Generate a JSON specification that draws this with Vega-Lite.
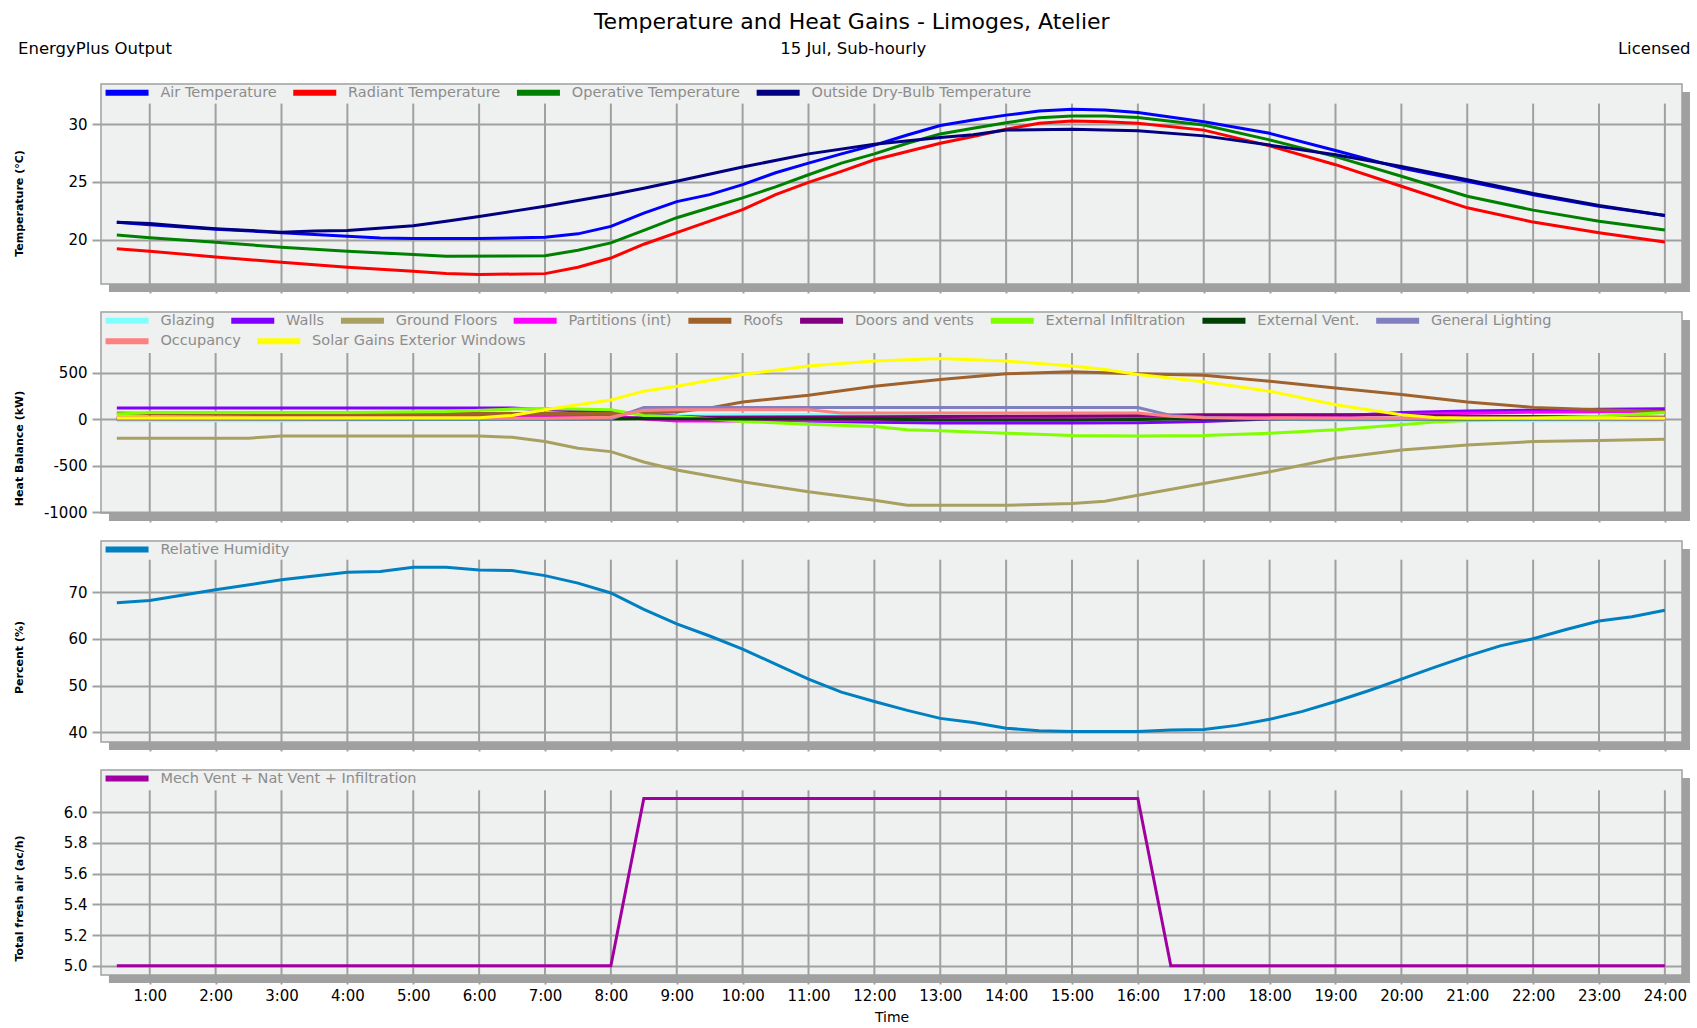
{
"$schema": "https://vega.github.io/schema/vega-lite/v6.json",
"padding": {"left": 12, "top": 10, "right": 5, "bottom": 5},
"background": "white",
"title": {"text": "Temperature and Heat Gains - Limoges, Atelier", "font": "DejaVu Sans", "fontSize": 22, "fontWeight": "normal", "color": "#000", "anchor": "middle", "frame": "bounds", "offset": 7},
"config": {
  "font": "DejaVu Sans",
  "view": {"fill": "#eff0f0", "stroke": "#a0a0a0", "strokeWidth": 1.5},
  "axis": {"labelFont": "DejaVu Sans", "labelFontSize": 15, "labelColor": "#000", "tickColor": "#a0a0a0", "tickWidth": 2, "tickSize": 9, "labelPadding": 5, "gridColor": "#a0a0a0", "gridWidth": 2, "gridOpacity": 1, "domain": false, "titleFont": "DejaVu Sans", "titleFontSize": 11, "titleFontWeight": "bold", "titleColor": "#000"},
  "legend": {"orient": "top-left", "offset": -2, "direction": "horizontal", "symbolType": "M-0.55,0H5.45", "symbolSize": 205.4, "symbolStrokeWidth": 6, "labelColor": "#8c8c8c", "labelFont": "DejaVu Sans", "labelFontSize": 14.5, "labelLimit": 400, "columnPadding": 3.7, "rowPadding": 5, "labelOffset": 40.4, "padding": 0}
},
"datasets": {
  "hours": [{"h":1},{"h":2},{"h":3},{"h":4},{"h":5},{"h":6},{"h":7},{"h":8},{"h":9},{"h":10},{"h":11},{"h":12},{"h":13},{"h":14},{"h":15},{"h":16},{"h":17},{"h":18},{"h":19},{"h":20},{"h":21},{"h":22},{"h":23},{"h":24}],
  "temp": [
{"h":0.5,"s":"Air Temperature","v":21.5},{"h":1,"s":"Air Temperature","v":21.3},{"h":2,"s":"Air Temperature","v":20.9},{"h":3,"s":"Air Temperature","v":20.6},{"h":4,"s":"Air Temperature","v":20.3},{"h":4.5,"s":"Air Temperature","v":20.15},{"h":5,"s":"Air Temperature","v":20.1},{"h":6,"s":"Air Temperature","v":20.1},{"h":7,"s":"Air Temperature","v":20.2},{"h":7.5,"s":"Air Temperature","v":20.5},{"h":8,"s":"Air Temperature","v":21.15},{"h":8.5,"s":"Air Temperature","v":22.3},{"h":9,"s":"Air Temperature","v":23.3},{"h":9.5,"s":"Air Temperature","v":23.9},{"h":10,"s":"Air Temperature","v":24.77},{"h":10.5,"s":"Air Temperature","v":25.8},{"h":11,"s":"Air Temperature","v":26.64},{"h":11.5,"s":"Air Temperature","v":27.44},{"h":12,"s":"Air Temperature","v":28.2},{"h":12.5,"s":"Air Temperature","v":29.08},{"h":13,"s":"Air Temperature","v":29.9},{"h":13.5,"s":"Air Temperature","v":30.37},{"h":14,"s":"Air Temperature","v":30.8},{"h":14.5,"s":"Air Temperature","v":31.15},{"h":15,"s":"Air Temperature","v":31.3},{"h":15.5,"s":"Air Temperature","v":31.24},{"h":16,"s":"Air Temperature","v":31.03},{"h":17,"s":"Air Temperature","v":30.23},{"h":18,"s":"Air Temperature","v":29.22},{"h":19,"s":"Air Temperature","v":27.73},{"h":20,"s":"Air Temperature","v":26.2},{"h":21,"s":"Air Temperature","v":25.06},{"h":22,"s":"Air Temperature","v":23.9},{"h":23,"s":"Air Temperature","v":22.9},{"h":24,"s":"Air Temperature","v":22.1},
{"h":0.5,"s":"Radiant Temperature","v":19.2},{"h":1,"s":"Radiant Temperature","v":19.0},{"h":2,"s":"Radiant Temperature","v":18.5},{"h":3,"s":"Radiant Temperature","v":18.04},{"h":4,"s":"Radiant Temperature","v":17.6},{"h":5,"s":"Radiant Temperature","v":17.26},{"h":5.5,"s":"Radiant Temperature","v":17.06},{"h":6,"s":"Radiant Temperature","v":16.97},{"h":7,"s":"Radiant Temperature","v":17.05},{"h":7.5,"s":"Radiant Temperature","v":17.6},{"h":8,"s":"Radiant Temperature","v":18.4},{"h":8.5,"s":"Radiant Temperature","v":19.6},{"h":9,"s":"Radiant Temperature","v":20.6},{"h":9.5,"s":"Radiant Temperature","v":21.6},{"h":10,"s":"Radiant Temperature","v":22.6},{"h":10.5,"s":"Radiant Temperature","v":23.9},{"h":11,"s":"Radiant Temperature","v":24.97},{"h":11.5,"s":"Radiant Temperature","v":25.92},{"h":12,"s":"Radiant Temperature","v":26.93},{"h":12.5,"s":"Radiant Temperature","v":27.64},{"h":13,"s":"Radiant Temperature","v":28.36},{"h":13.5,"s":"Radiant Temperature","v":28.94},{"h":14,"s":"Radiant Temperature","v":29.57},{"h":14.5,"s":"Radiant Temperature","v":30.09},{"h":15,"s":"Radiant Temperature","v":30.3},{"h":15.5,"s":"Radiant Temperature","v":30.23},{"h":16,"s":"Radiant Temperature","v":30.09},{"h":17,"s":"Radiant Temperature","v":29.5},{"h":18,"s":"Radiant Temperature","v":28.13},{"h":19,"s":"Radiant Temperature","v":26.5},{"h":20,"s":"Radiant Temperature","v":24.63},{"h":21,"s":"Radiant Temperature","v":22.76},{"h":22,"s":"Radiant Temperature","v":21.52},{"h":23,"s":"Radiant Temperature","v":20.6},{"h":24,"s":"Radiant Temperature","v":19.8},
{"h":0.5,"s":"Operative Temperature","v":20.4},{"h":1,"s":"Operative Temperature","v":20.17},{"h":2,"s":"Operative Temperature","v":19.77},{"h":3,"s":"Operative Temperature","v":19.34},{"h":4,"s":"Operative Temperature","v":19.0},{"h":5,"s":"Operative Temperature","v":18.7},{"h":5.5,"s":"Operative Temperature","v":18.56},{"h":7,"s":"Operative Temperature","v":18.6},{"h":7.5,"s":"Operative Temperature","v":19.08},{"h":8,"s":"Operative Temperature","v":19.72},{"h":8.5,"s":"Operative Temperature","v":20.8},{"h":9,"s":"Operative Temperature","v":21.9},{"h":9.5,"s":"Operative Temperature","v":22.76},{"h":10,"s":"Operative Temperature","v":23.62},{"h":10.5,"s":"Operative Temperature","v":24.57},{"h":11,"s":"Operative Temperature","v":25.63},{"h":11.5,"s":"Operative Temperature","v":26.64},{"h":12,"s":"Operative Temperature","v":27.44},{"h":12.5,"s":"Operative Temperature","v":28.36},{"h":13,"s":"Operative Temperature","v":29.17},{"h":13.5,"s":"Operative Temperature","v":29.66},{"h":14,"s":"Operative Temperature","v":30.14},{"h":14.5,"s":"Operative Temperature","v":30.57},{"h":15,"s":"Operative Temperature","v":30.72},{"h":15.5,"s":"Operative Temperature","v":30.72},{"h":16,"s":"Operative Temperature","v":30.6},{"h":17,"s":"Operative Temperature","v":29.94},{"h":18,"s":"Operative Temperature","v":28.65},{"h":19,"s":"Operative Temperature","v":27.2},{"h":20,"s":"Operative Temperature","v":25.5},{"h":21,"s":"Operative Temperature","v":23.76},{"h":22,"s":"Operative Temperature","v":22.56},{"h":23,"s":"Operative Temperature","v":21.6},{"h":24,"s":"Operative Temperature","v":20.83},
{"h":0.5,"s":"Outside Dry-Bulb Temperature","v":21.5},{"h":1,"s":"Outside Dry-Bulb Temperature","v":21.4},{"h":1.5,"s":"Outside Dry-Bulb Temperature","v":21.15},{"h":2,"s":"Outside Dry-Bulb Temperature","v":20.95},{"h":3,"s":"Outside Dry-Bulb Temperature","v":20.65},{"h":3.5,"s":"Outside Dry-Bulb Temperature","v":20.75},{"h":4,"s":"Outside Dry-Bulb Temperature","v":20.8},{"h":5,"s":"Outside Dry-Bulb Temperature","v":21.2},{"h":5.5,"s":"Outside Dry-Bulb Temperature","v":21.6},{"h":6,"s":"Outside Dry-Bulb Temperature","v":22.0},{"h":6.5,"s":"Outside Dry-Bulb Temperature","v":22.45},{"h":7,"s":"Outside Dry-Bulb Temperature","v":22.9},{"h":7.5,"s":"Outside Dry-Bulb Temperature","v":23.4},{"h":8,"s":"Outside Dry-Bulb Temperature","v":23.9},{"h":8.5,"s":"Outside Dry-Bulb Temperature","v":24.45},{"h":9,"s":"Outside Dry-Bulb Temperature","v":25.06},{"h":10,"s":"Outside Dry-Bulb Temperature","v":26.3},{"h":11,"s":"Outside Dry-Bulb Temperature","v":27.44},{"h":12,"s":"Outside Dry-Bulb Temperature","v":28.28},{"h":13,"s":"Outside Dry-Bulb Temperature","v":28.85},{"h":13.5,"s":"Outside Dry-Bulb Temperature","v":29.1},{"h":14,"s":"Outside Dry-Bulb Temperature","v":29.5},{"h":15,"s":"Outside Dry-Bulb Temperature","v":29.57},{"h":16,"s":"Outside Dry-Bulb Temperature","v":29.45},{"h":17,"s":"Outside Dry-Bulb Temperature","v":29.0},{"h":18,"s":"Outside Dry-Bulb Temperature","v":28.2},{"h":19,"s":"Outside Dry-Bulb Temperature","v":27.36},{"h":20,"s":"Outside Dry-Bulb Temperature","v":26.35},{"h":21,"s":"Outside Dry-Bulb Temperature","v":25.2},{"h":22,"s":"Outside Dry-Bulb Temperature","v":24.0},{"h":23,"s":"Outside Dry-Bulb Temperature","v":22.96},{"h":24,"s":"Outside Dry-Bulb Temperature","v":22.1}
  ],
  "heat": [
{"h":0.5,"s":"Glazing","v":-18},{"h":3,"s":"Glazing","v":-18},{"h":4,"s":"Glazing","v":-12},{"h":6,"s":"Glazing","v":-5},{"h":7,"s":"Glazing","v":0},{"h":8,"s":"Glazing","v":10},{"h":9,"s":"Glazing","v":40},{"h":10,"s":"Glazing","v":50},{"h":11,"s":"Glazing","v":50},{"h":12,"s":"Glazing","v":45},{"h":13,"s":"Glazing","v":35},{"h":14,"s":"Glazing","v":30},{"h":15,"s":"Glazing","v":25},{"h":16,"s":"Glazing","v":18},{"h":17,"s":"Glazing","v":10},{"h":18,"s":"Glazing","v":0},{"h":19,"s":"Glazing","v":-15},{"h":20,"s":"Glazing","v":-18},{"h":24,"s":"Glazing","v":-18},
{"h":0.5,"s":"Walls","v":118},{"h":6.5,"s":"Walls","v":118},{"h":7,"s":"Walls","v":100},{"h":8,"s":"Walls","v":80},{"h":8.5,"s":"Walls","v":60},{"h":9,"s":"Walls","v":30},{"h":10,"s":"Walls","v":0},{"h":11,"s":"Walls","v":-20},{"h":12,"s":"Walls","v":-35},{"h":13,"s":"Walls","v":-43},{"h":15,"s":"Walls","v":-43},{"h":16,"s":"Walls","v":-40},{"h":17,"s":"Walls","v":-25},{"h":18,"s":"Walls","v":0},{"h":19,"s":"Walls","v":30},{"h":20,"s":"Walls","v":72},{"h":21,"s":"Walls","v":88},{"h":22,"s":"Walls","v":95},{"h":23,"s":"Walls","v":105},{"h":24,"s":"Walls","v":112},
{"h":0.5,"s":"Ground Floors","v":-205},{"h":2.5,"s":"Ground Floors","v":-205},{"h":3,"s":"Ground Floors","v":-180},{"h":6,"s":"Ground Floors","v":-180},{"h":6.5,"s":"Ground Floors","v":-195},{"h":7,"s":"Ground Floors","v":-241},{"h":7.5,"s":"Ground Floors","v":-313},{"h":8,"s":"Ground Floors","v":-349},{"h":8.5,"s":"Ground Floors","v":-460},{"h":9,"s":"Ground Floors","v":-547},{"h":10,"s":"Ground Floors","v":-673},{"h":11,"s":"Ground Floors","v":-781},{"h":12,"s":"Ground Floors","v":-871},{"h":12.5,"s":"Ground Floors","v":-925},{"h":14,"s":"Ground Floors","v":-925},{"h":15,"s":"Ground Floors","v":-907},{"h":15.5,"s":"Ground Floors","v":-882},{"h":16,"s":"Ground Floors","v":-817},{"h":17,"s":"Ground Floors","v":-691},{"h":18,"s":"Ground Floors","v":-565},{"h":19,"s":"Ground Floors","v":-421},{"h":20,"s":"Ground Floors","v":-331},{"h":21,"s":"Ground Floors","v":-277},{"h":22,"s":"Ground Floors","v":-241},{"h":23,"s":"Ground Floors","v":-230},{"h":24,"s":"Ground Floors","v":-216},
{"h":0.5,"s":"Partitions (int)","v":20},{"h":2,"s":"Partitions (int)","v":25},{"h":4,"s":"Partitions (int)","v":35},{"h":6,"s":"Partitions (int)","v":40},{"h":7,"s":"Partitions (int)","v":40},{"h":8,"s":"Partitions (int)","v":35},{"h":8.5,"s":"Partitions (int)","v":0},{"h":9,"s":"Partitions (int)","v":-20},{"h":10,"s":"Partitions (int)","v":-20},{"h":12,"s":"Partitions (int)","v":-10},{"h":14,"s":"Partitions (int)","v":0},{"h":16,"s":"Partitions (int)","v":20},{"h":18,"s":"Partitions (int)","v":40},{"h":20,"s":"Partitions (int)","v":50},{"h":22,"s":"Partitions (int)","v":75},{"h":23,"s":"Partitions (int)","v":80},{"h":24,"s":"Partitions (int)","v":80},
{"h":0.5,"s":"Roofs","v":65},{"h":1,"s":"Roofs","v":60},{"h":8,"s":"Roofs","v":60},{"h":9,"s":"Roofs","v":75},{"h":9.5,"s":"Roofs","v":120},{"h":10,"s":"Roofs","v":184},{"h":11,"s":"Roofs","v":256},{"h":12,"s":"Roofs","v":353},{"h":13,"s":"Roofs","v":425},{"h":14,"s":"Roofs","v":486},{"h":15,"s":"Roofs","v":508},{"h":16,"s":"Roofs","v":486},{"h":17,"s":"Roofs","v":472},{"h":18,"s":"Roofs","v":407},{"h":19,"s":"Roofs","v":335},{"h":20,"s":"Roofs","v":263},{"h":21,"s":"Roofs","v":184},{"h":22,"s":"Roofs","v":126},{"h":23,"s":"Roofs","v":101},{"h":24,"s":"Roofs","v":83},
{"h":0.5,"s":"Doors and vents","v":10},{"h":8,"s":"Doors and vents","v":10},{"h":9,"s":"Doors and vents","v":20},{"h":12,"s":"Doors and vents","v":25},{"h":14,"s":"Doors and vents","v":30},{"h":16,"s":"Doors and vents","v":40},{"h":17,"s":"Doors and vents","v":47},{"h":20,"s":"Doors and vents","v":47},{"h":21,"s":"Doors and vents","v":30},{"h":24,"s":"Doors and vents","v":20},
{"h":0.5,"s":"External Infiltration","v":54},{"h":1,"s":"External Infiltration","v":72},{"h":4,"s":"External Infiltration","v":72},{"h":5.5,"s":"External Infiltration","v":83},{"h":6.5,"s":"External Infiltration","v":108},{"h":7,"s":"External Infiltration","v":115},{"h":8,"s":"External Infiltration","v":101},{"h":8.5,"s":"External Infiltration","v":40},{"h":9,"s":"External Infiltration","v":29},{"h":9.5,"s":"External Infiltration","v":5},{"h":10,"s":"External Infiltration","v":-25},{"h":11,"s":"External Infiltration","v":-54},{"h":12,"s":"External Infiltration","v":-79},{"h":12.5,"s":"External Infiltration","v":-115},{"h":13,"s":"External Infiltration","v":-126},{"h":14,"s":"External Infiltration","v":-151},{"h":15,"s":"External Infiltration","v":-176},{"h":16,"s":"External Infiltration","v":-180},{"h":17,"s":"External Infiltration","v":-176},{"h":18,"s":"External Infiltration","v":-151},{"h":19,"s":"External Infiltration","v":-115},{"h":20,"s":"External Infiltration","v":-61},{"h":20.5,"s":"External Infiltration","v":-32},{"h":21,"s":"External Infiltration","v":-14},{"h":22,"s":"External Infiltration","v":10},{"h":23,"s":"External Infiltration","v":30},{"h":24,"s":"External Infiltration","v":70},
{"h":0.5,"s":"External Vent.","v":0},{"h":8,"s":"External Vent.","v":0},{"h":8.5,"s":"External Vent.","v":5},{"h":12,"s":"External Vent.","v":0},{"h":13,"s":"External Vent.","v":-10},{"h":15,"s":"External Vent.","v":-10},{"h":16,"s":"External Vent.","v":-5},{"h":16.5,"s":"External Vent.","v":0},{"h":24,"s":"External Vent.","v":0},
{"h":0.5,"s":"General Lighting","v":0},{"h":8,"s":"General Lighting","v":0},{"h":8.5,"s":"General Lighting","v":125},{"h":16,"s":"General Lighting","v":125},{"h":16.5,"s":"General Lighting","v":40},{"h":17,"s":"General Lighting","v":20},{"h":18,"s":"General Lighting","v":0},{"h":24,"s":"General Lighting","v":0}
  ],
  "heat2": [
{"h":0.5,"s":"Occupancy","v":0},{"h":7,"s":"Occupancy","v":10},{"h":8,"s":"Occupancy","v":20},{"h":8.5,"s":"Occupancy","v":95},{"h":9,"s":"Occupancy","v":100},{"h":11,"s":"Occupancy","v":100},{"h":11.5,"s":"Occupancy","v":65},{"h":16,"s":"Occupancy","v":65},{"h":16.5,"s":"Occupancy","v":30},{"h":17,"s":"Occupancy","v":15},{"h":20,"s":"Occupancy","v":10},{"h":24,"s":"Occupancy","v":0},
{"h":0.5,"s":"Solar Gains Exterior Windows","v":15},{"h":6,"s":"Solar Gains Exterior Windows","v":15},{"h":6.5,"s":"Solar Gains Exterior Windows","v":40},{"h":7,"s":"Solar Gains Exterior Windows","v":100},{"h":7.5,"s":"Solar Gains Exterior Windows","v":155},{"h":8,"s":"Solar Gains Exterior Windows","v":205},{"h":8.5,"s":"Solar Gains Exterior Windows","v":300},{"h":9,"s":"Solar Gains Exterior Windows","v":353},{"h":10,"s":"Solar Gains Exterior Windows","v":479},{"h":11,"s":"Solar Gains Exterior Windows","v":569},{"h":12,"s":"Solar Gains Exterior Windows","v":623},{"h":13,"s":"Solar Gains Exterior Windows","v":652},{"h":14,"s":"Solar Gains Exterior Windows","v":623},{"h":15,"s":"Solar Gains Exterior Windows","v":569},{"h":15.5,"s":"Solar Gains Exterior Windows","v":533},{"h":16,"s":"Solar Gains Exterior Windows","v":479},{"h":17,"s":"Solar Gains Exterior Windows","v":400},{"h":18,"s":"Solar Gains Exterior Windows","v":299},{"h":19,"s":"Solar Gains Exterior Windows","v":155},{"h":20,"s":"Solar Gains Exterior Windows","v":47},{"h":20.5,"s":"Solar Gains Exterior Windows","v":18},{"h":21,"s":"Solar Gains Exterior Windows","v":11},{"h":24,"s":"Solar Gains Exterior Windows","v":11}
  ],
  "rh": [
{"h":0.5,"s":"Relative Humidity","v":67.7},{"h":1,"s":"Relative Humidity","v":68.2},{"h":2,"s":"Relative Humidity","v":70.5},{"h":3,"s":"Relative Humidity","v":72.6},{"h":4,"s":"Relative Humidity","v":74.2},{"h":4.5,"s":"Relative Humidity","v":74.4},{"h":5,"s":"Relative Humidity","v":75.3},{"h":5.5,"s":"Relative Humidity","v":75.3},{"h":6,"s":"Relative Humidity","v":74.7},{"h":6.5,"s":"Relative Humidity","v":74.6},{"h":7,"s":"Relative Humidity","v":73.5},{"h":7.5,"s":"Relative Humidity","v":71.9},{"h":8,"s":"Relative Humidity","v":69.8},{"h":8.5,"s":"Relative Humidity","v":66.3},{"h":9,"s":"Relative Humidity","v":63.2},{"h":9.5,"s":"Relative Humidity","v":60.6},{"h":10,"s":"Relative Humidity","v":57.8},{"h":10.5,"s":"Relative Humidity","v":54.6},{"h":11,"s":"Relative Humidity","v":51.4},{"h":11.5,"s":"Relative Humidity","v":48.6},{"h":12,"s":"Relative Humidity","v":46.6},{"h":12.5,"s":"Relative Humidity","v":44.7},{"h":13,"s":"Relative Humidity","v":43.0},{"h":13.5,"s":"Relative Humidity","v":42.1},{"h":14,"s":"Relative Humidity","v":40.9},{"h":14.5,"s":"Relative Humidity","v":40.35},{"h":15,"s":"Relative Humidity","v":40.2},{"h":16,"s":"Relative Humidity","v":40.2},{"h":16.5,"s":"Relative Humidity","v":40.5},{"h":17,"s":"Relative Humidity","v":40.6},{"h":17.5,"s":"Relative Humidity","v":41.5},{"h":18,"s":"Relative Humidity","v":42.8},{"h":18.5,"s":"Relative Humidity","v":44.5},{"h":19,"s":"Relative Humidity","v":46.6},{"h":19.5,"s":"Relative Humidity","v":48.9},{"h":20,"s":"Relative Humidity","v":51.4},{"h":20.5,"s":"Relative Humidity","v":53.9},{"h":21,"s":"Relative Humidity","v":56.3},{"h":21.5,"s":"Relative Humidity","v":58.5},{"h":22,"s":"Relative Humidity","v":60.0},{"h":22.5,"s":"Relative Humidity","v":62.0},{"h":23,"s":"Relative Humidity","v":63.8},{"h":23.5,"s":"Relative Humidity","v":64.7},{"h":24,"s":"Relative Humidity","v":66.1}
  ],
  "vent": [
{"h":0.5,"s":"Mech Vent + Nat Vent + Infiltration","v":5.0},{"h":8,"s":"Mech Vent + Nat Vent + Infiltration","v":5.0},{"h":8.5,"s":"Mech Vent + Nat Vent + Infiltration","v":6.09},{"h":16,"s":"Mech Vent + Nat Vent + Infiltration","v":6.09},{"h":16.5,"s":"Mech Vent + Nat Vent + Infiltration","v":5.0},{"h":24,"s":"Mech Vent + Nat Vent + Infiltration","v":5.0}
  ]
},
"vconcat": [
  {
    "width": 1581, "height": 200,
    "layer": [
      {"data": {"values": [{}]}, "mark": {"type": "rect", "color": "#a0a0a0", "clip": false}, "encoding": {"x": {"datum": 0.381}, "x2": {"datum": 24.381}, "y": {"datum": 15.456}, "y2": {"datum": 16.15}}},
      {"data": {"values": [{}]}, "mark": {"type": "rect", "color": "#a0a0a0", "clip": false}, "encoding": {"x": {"datum": 24.26}, "x2": {"datum": 24.381}, "y": {"datum": 15.456}, "y2": {"datum": 32.806}}},
      {"data": {"name": "hours"}, "mark": {"type": "rule", "color": "#a0a0a0", "strokeWidth": 2}, "encoding": {"x": {"field": "h", "type": "quantitative"}, "y": {"datum": 31.8}, "y2": {"datum": 16.15}}},
      {"data": {"name": "temp"}, "mark": {"type": "line", "strokeWidth": 3},
       "encoding": {
         "x": {"field": "h", "type": "quantitative", "scale": {"domain": [0.26, 24.26], "nice": false, "zero": false}, "axis": {"values": [1,2,3,4,5,6,7,8,9,10,11,12,13,14,15,16,17,18,19,20,21,22,23,24], "labels": false, "grid": false, "title": null}},
         "y": {"field": "v", "type": "quantitative", "scale": {"domain": [16.15, 33.5], "nice": false, "zero": false}, "axis": {"values": [20, 25, 30], "grid": true, "title": "Temperature  (°C)", "titleX": -82, "titleY": 119, "titleAngle": -90, "titleBaseline": "middle", "titleAlign": "center"}},
         "color": {"field": "s", "type": "nominal", "scale": {"domain": ["Air Temperature", "Radiant Temperature", "Operative Temperature", "Outside Dry-Bulb Temperature"], "range": ["#0000ff", "#ff0000", "#008000", "#000080"]}, "legend": {"title": null}}
       }},
      {"data": {"values": [{}]}, "mark": {"type": "text", "align": "left", "baseline": "middle", "fontSize": 16.5, "color": "#000", "clip": false}, "encoding": {"x": {"datum": -1.0}, "y": {"datum": 36.5}, "text": {"value": "EnergyPlus Output"}}},
      {"data": {"values": [{}]}, "mark": {"type": "text", "align": "center", "baseline": "middle", "fontSize": 16.5, "color": "#000", "clip": false}, "encoding": {"x": {"datum": 11.68}, "y": {"datum": 36.5}, "text": {"value": "15 Jul, Sub-hourly"}}},
      {"data": {"values": [{}]}, "mark": {"type": "text", "align": "right", "baseline": "middle", "fontSize": 16.5, "color": "#000", "clip": false}, "encoding": {"x": {"datum": 24.39}, "y": {"datum": 36.5}, "text": {"value": "Licensed"}}}
    ]
  },
  {
    "width": 1581, "height": 201,
    "layer": [
      {"data": {"values": [{}]}, "mark": {"type": "rect", "color": "#a0a0a0", "clip": false}, "encoding": {"x": {"datum": 0.381}, "x2": {"datum": 24.381}, "y": {"datum": -1093.9}, "y2": {"datum": -1008}}},
      {"data": {"values": [{}]}, "mark": {"type": "rect", "color": "#a0a0a0", "clip": false}, "encoding": {"x": {"datum": 24.26}, "x2": {"datum": 24.381}, "y": {"datum": -1093.9}, "y2": {"datum": 1064.1}}},
      {"data": {"name": "hours"}, "mark": {"type": "rule", "color": "#a0a0a0", "strokeWidth": 2}, "encoding": {"x": {"field": "h", "type": "quantitative"}, "y": {"datum": 710}, "y2": {"datum": -1008}}},
      {"data": {"name": "heat"}, "mark": {"type": "line", "strokeWidth": 3},
       "encoding": {
         "x": {"field": "h", "type": "quantitative", "scale": {"domain": [0.26, 24.26], "nice": false, "zero": false}, "axis": {"values": [1,2,3,4,5,6,7,8,9,10,11,12,13,14,15,16,17,18,19,20,21,22,23,24], "labels": false, "grid": false, "title": null}},
         "y": {"field": "v", "type": "quantitative", "scale": {"domain": [-1008, 1150], "nice": false, "zero": false}, "axis": {"values": [-1000, -500, 0, 500], "labelExpr": "'' + datum.value", "grid": true, "title": "Heat Balance  (kW)", "titleX": -82, "titleY": 136, "titleAngle": -90, "titleBaseline": "middle", "titleAlign": "center"}},
         "color": {"field": "s", "type": "nominal", "scale": {"domain": ["Glazing", "Walls", "Ground Floors", "Partitions (int)", "Roofs", "Doors and vents", "External Infiltration", "External Vent.", "General Lighting"], "range": ["#80ffff", "#8000ff", "#a8a060", "#ff00ff", "#a0622d", "#800080", "#80ff00", "#004000", "#8080c0"]}, "legend": {"title": null}}
       }},
      {"data": {"name": "heat2"}, "mark": {"type": "line", "strokeWidth": 3},
       "encoding": {
         "x": {"field": "h", "type": "quantitative"},
         "y": {"field": "v", "type": "quantitative"},
         "stroke": {"field": "s", "type": "nominal", "scale": {"domain": ["Occupancy", "Solar Gains Exterior Windows"], "range": ["#ff8080", "#ffff00"]}, "legend": {"title": null, "orient": "none", "legendX": -2, "legendY": 18.6}}
       }}
    ]
  },
  {
    "width": 1581, "height": 201,
    "layer": [
      {"data": {"values": [{}]}, "mark": {"type": "rect", "color": "#a0a0a0", "clip": false}, "encoding": {"x": {"datum": 0.381}, "x2": {"datum": 24.381}, "y": {"datum": 36.24}, "y2": {"datum": 37.95}}},
      {"data": {"values": [{}]}, "mark": {"type": "rect", "color": "#a0a0a0", "clip": false}, "encoding": {"x": {"datum": 24.26}, "x2": {"datum": 24.381}, "y": {"datum": 36.24}, "y2": {"datum": 79.19}}},
      {"data": {"name": "hours"}, "mark": {"type": "rule", "color": "#a0a0a0", "strokeWidth": 2}, "encoding": {"x": {"field": "h", "type": "quantitative"}, "y": {"datum": 76.9}, "y2": {"datum": 37.95}}},
      {"data": {"name": "rh"}, "mark": {"type": "line", "strokeWidth": 3},
       "encoding": {
         "x": {"field": "h", "type": "quantitative", "scale": {"domain": [0.26, 24.26], "nice": false, "zero": false}, "axis": {"values": [1,2,3,4,5,6,7,8,9,10,11,12,13,14,15,16,17,18,19,20,21,22,23,24], "labels": false, "grid": false, "title": null}},
         "y": {"field": "v", "type": "quantitative", "scale": {"domain": [37.95, 80.9], "nice": false, "zero": false}, "axis": {"values": [40, 50, 60, 70], "grid": true, "title": "Percent (%)", "titleX": -82, "titleY": 116, "titleAngle": -90, "titleBaseline": "middle", "titleAlign": "center"}},
         "color": {"field": "s", "type": "nominal", "scale": {"domain": ["Relative Humidity"], "range": ["#0080c0"]}, "legend": {"title": null}}
       }}
    ]
  },
  {
    "width": 1581, "height": 205,
    "layer": [
      {"data": {"values": [{}]}, "mark": {"type": "rect", "color": "#a0a0a0", "clip": false}, "encoding": {"x": {"datum": 0.381}, "x2": {"datum": 24.381}, "y": {"datum": 4.888}, "y2": {"datum": 4.94}}},
      {"data": {"values": [{}]}, "mark": {"type": "rect", "color": "#a0a0a0", "clip": false}, "encoding": {"x": {"datum": 24.26}, "x2": {"datum": 24.381}, "y": {"datum": 4.888}, "y2": {"datum": 6.223}}},
      {"data": {"name": "hours"}, "mark": {"type": "rule", "color": "#a0a0a0", "strokeWidth": 2}, "encoding": {"x": {"field": "h", "type": "quantitative"}, "y": {"datum": 6.143}, "y2": {"datum": 4.94}}},
      {"data": {"name": "vent"}, "mark": {"type": "line", "strokeWidth": 3},
       "encoding": {
         "x": {"field": "h", "type": "quantitative", "scale": {"domain": [0.26, 24.26], "nice": false, "zero": false}, "axis": {"values": [1,2,3,4,5,6,7,8,9,10,11,12,13,14,15,16,17,18,19,20,21,22,23,24], "labelExpr": "datum.value + ':00'", "grid": false, "title": "Time", "titleFontWeight": "normal", "titleFontSize": 14, "titlePadding": 7, "labelPadding": 4}},
         "y": {"field": "v", "type": "quantitative", "scale": {"domain": [4.94, 6.275], "nice": false, "zero": false}, "axis": {"values": [5.0, 5.2, 5.4, 5.6, 5.8, 6.0], "labelExpr": "format(datum.value, '.1f')", "grid": true, "title": "Total fresh air (ac/h)", "titleX": -82, "titleY": 128, "titleAngle": -90, "titleBaseline": "middle", "titleAlign": "center"}},
         "color": {"field": "s", "type": "nominal", "scale": {"domain": ["Mech Vent + Nat Vent + Infiltration"], "range": ["#a000a0"]}, "legend": {"title": null}}
       }}
    ]
  }
],
"spacing": 28,
"bounds": "flush",
"resolve": {"scale": {"color": "independent", "stroke": "independent", "x": "independent", "y": "independent"}, "legend": {"color": "independent", "stroke": "independent"}}
}
